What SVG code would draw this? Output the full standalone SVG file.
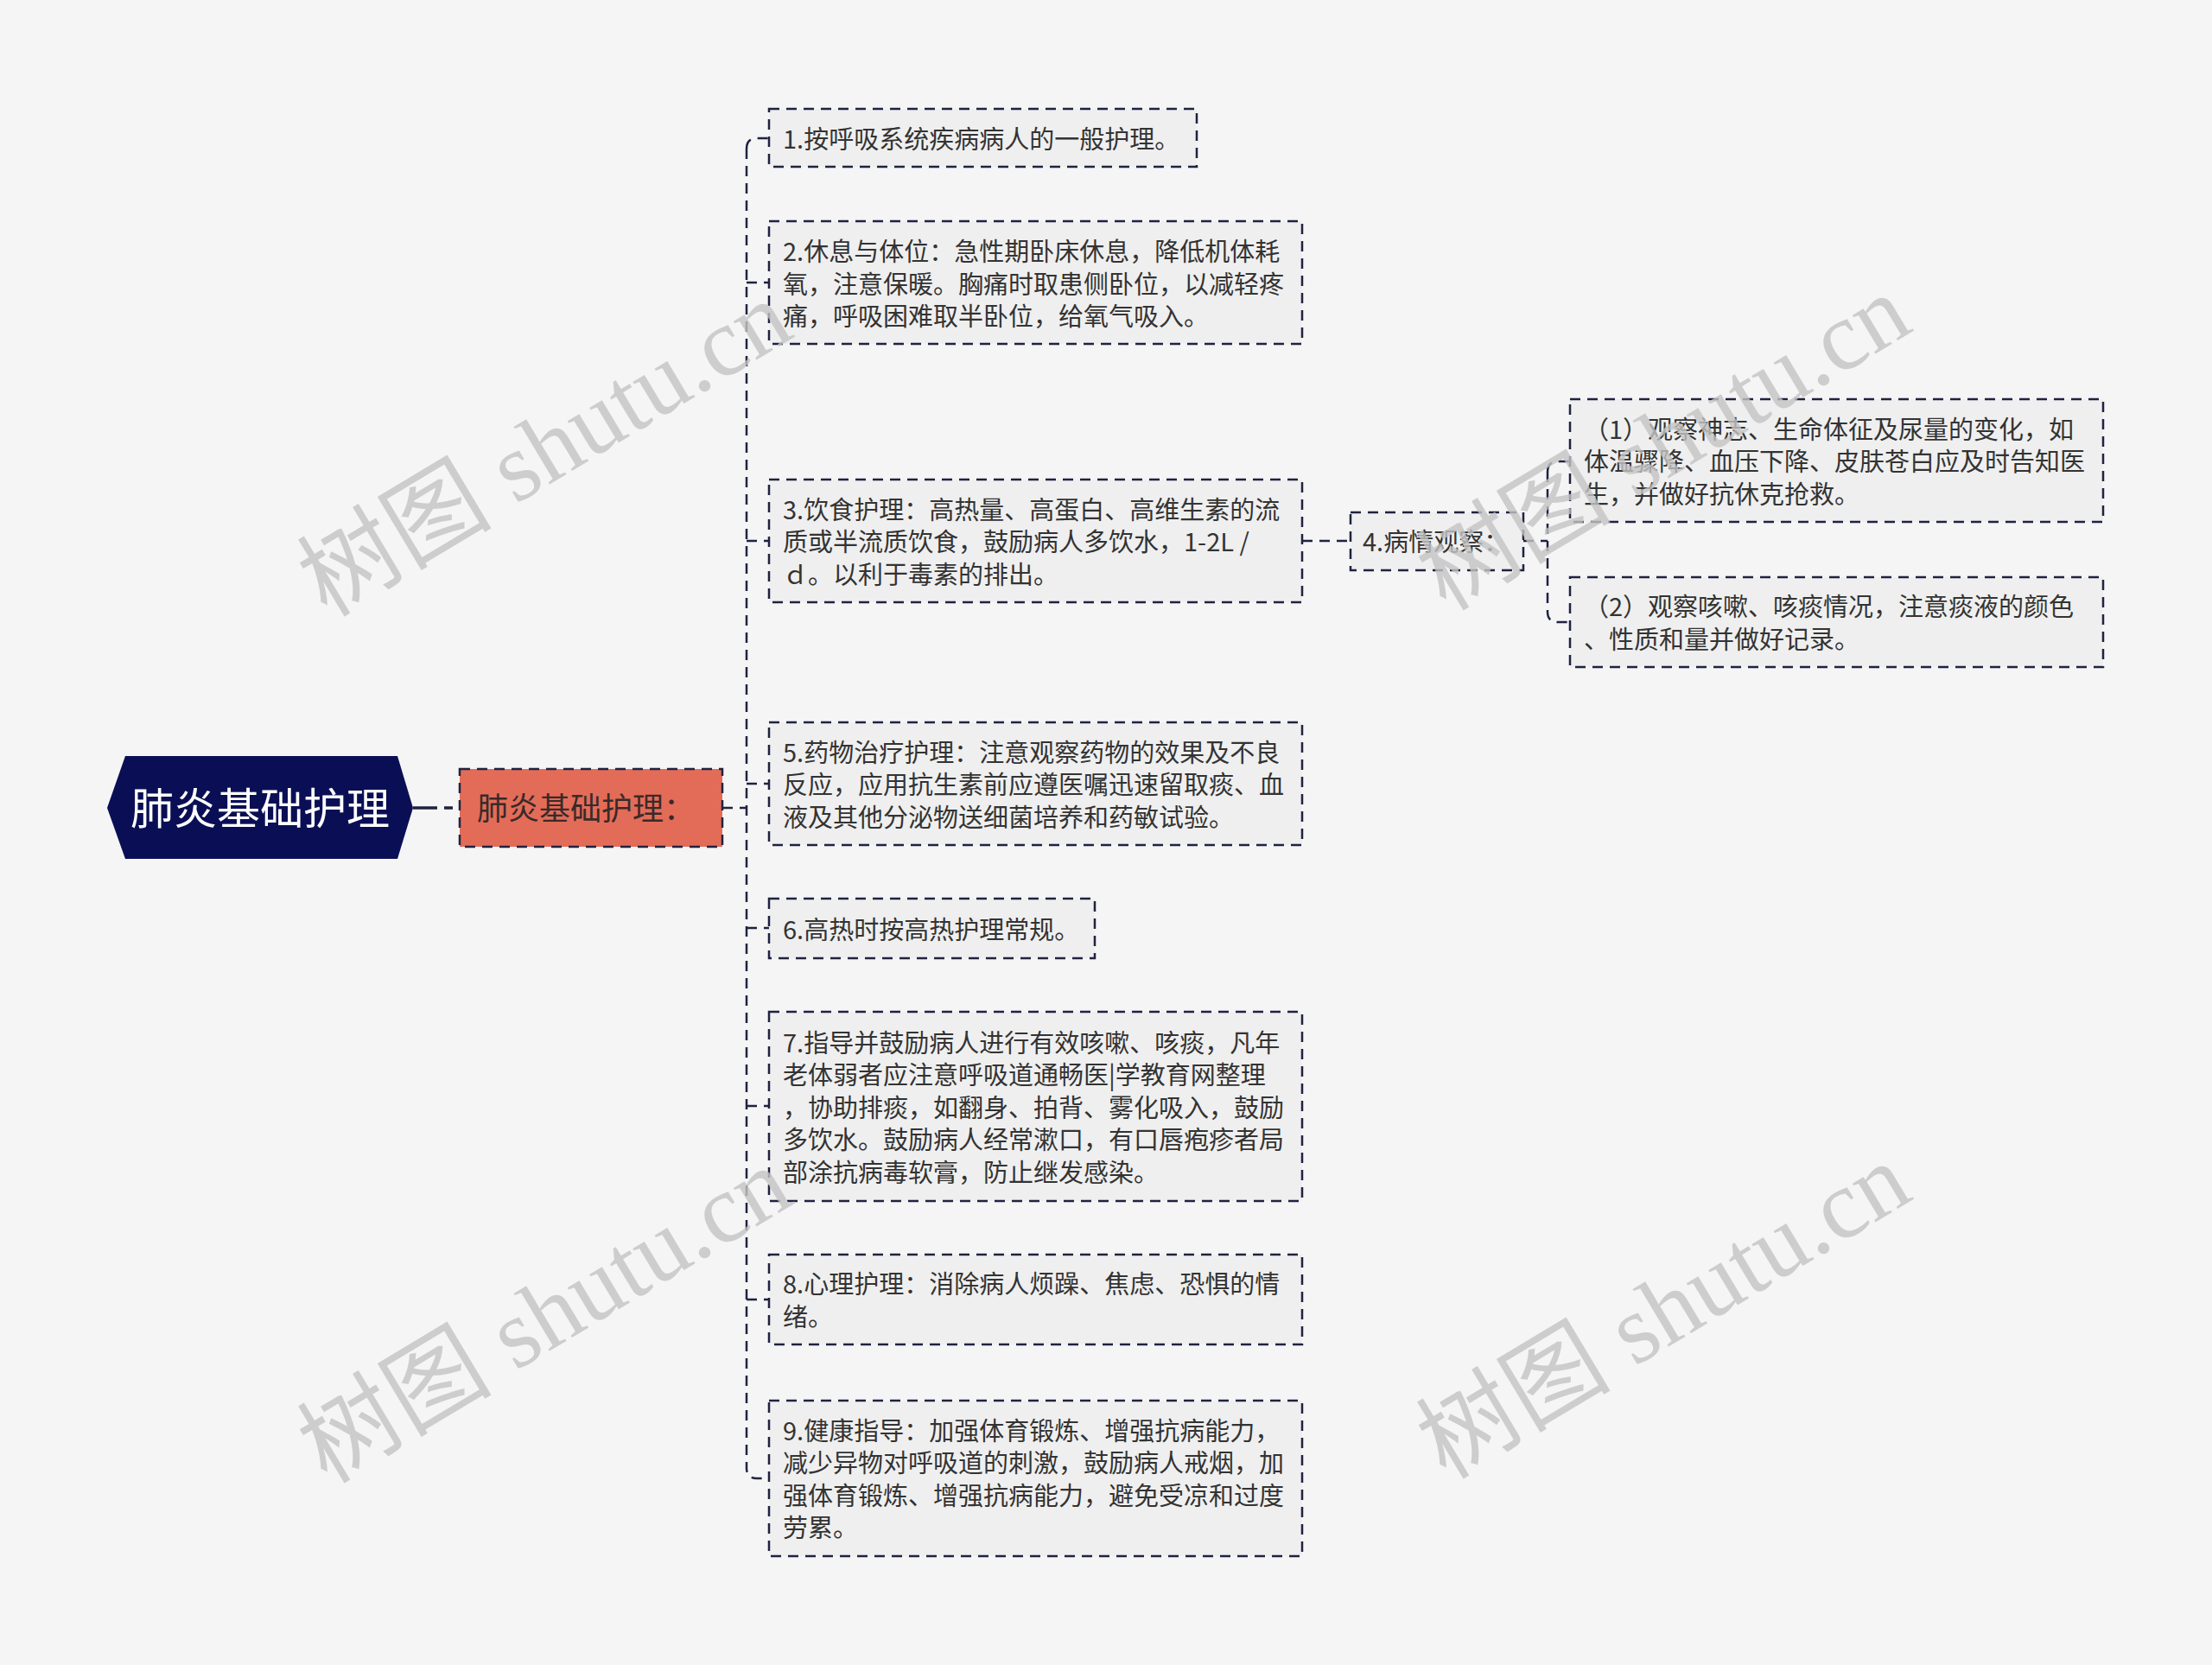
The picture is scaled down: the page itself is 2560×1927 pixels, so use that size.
<svg xmlns="http://www.w3.org/2000/svg" width="2560" height="1927" viewBox="0 0 2560 1927">
<style>
.bg{fill:#f5f5f5}
.leaf{fill:#efefef;stroke:#1f2340;stroke-width:2.5;stroke-dasharray:12 8}
.t{font-family:"Noto Sans CJK SC","Noto Sans",sans-serif;font-size:29px;fill:#333333}
.con{fill:none;stroke:#1f2340;stroke-width:2.5;stroke-dasharray:12 8}
.wm{font-family:"Liberation Serif","Noto Sans CJK SC",serif;font-size:113px;fill:#c4c4c4;opacity:0.8}
</style>
<rect class="bg" x="0" y="0" width="2560" height="1927"/>
<g id="connectors">
<path class="con" d="M478,935 H532" style="stroke-width:3.5;stroke-dasharray:28 8 10 8"/>
<path class="con" d="M836,935 H864"/>
<path class="con" d="M864,172 Q864,160 876,160 H890"/>
<path class="con" d="M864,172 V1699 Q864,1711 876,1711 H890"/>
<path class="con" d="M864,327 H890"/>
<path class="con" d="M864,626 H890"/>
<path class="con" d="M864,907 H890"/>
<path class="con" d="M864,1074 H890"/>
<path class="con" d="M864,1280 H890"/>
<path class="con" d="M864,1504 H890"/>
<path class="con" d="M1507,626 H1563"/>
<path class="con" d="M1763,626 H1791"/>
<path class="con" d="M1791,546 Q1791,534 1803,534 H1817"/>
<path class="con" d="M1791,546 V708 Q1791,720 1803,720 H1817"/>
</g>
<g id="root">
<polygon points="124,935 145,875 460,875 478,935 460,994 145,994" fill="#0a0f55"/>
<text x="301" y="954" text-anchor="middle" style="font-family:'Noto Sans CJK SC',sans-serif;font-size:50px;fill:#ffffff">肺炎基础护理</text>
</g>
<g id="main">
<rect x="532" y="890" width="304" height="90" fill="#e36c58" stroke="#1f2340" stroke-width="2.5" stroke-dasharray="12 8"/>
<text x="552" y="949" style="font-family:'Noto Sans CJK SC',sans-serif;font-size:36px;fill:#3a2a2a">肺炎基础护理：</text>
</g>
<g id="n1">
<rect class="leaf" x="890" y="126" width="495" height="67"/>
<text class="t" x="906" y="172">1.按呼吸系统疾病病人的一般护理。</text>
</g>
<g id="n2">
<rect class="leaf" x="890" y="256" width="617" height="142"/>
<text class="t" x="906" y="302">2.休息与体位：急性期卧床休息，降低机体耗</text>
<text class="t" x="906" y="340">氧，注意保暖。胸痛时取患侧卧位，以减轻疼</text>
<text class="t" x="906" y="377">痛，呼吸困难取半卧位，给氧气吸入。</text>
</g>
<g id="n3">
<rect class="leaf" x="890" y="555" width="617" height="142"/>
<text class="t" x="906" y="601">3.饮食护理：高热量、高蛋白、高维生素的流</text>
<text class="t" x="906" y="638">质或半流质饮食，鼓励病人多饮水，1-2L /</text>
<text class="t" x="906" y="676">ｄ。以利于毒素的排出。</text>
</g>
<g id="n4">
<rect class="leaf" x="1563" y="593" width="200" height="67"/>
<text class="t" x="1577" y="638">4.病情观察：</text>
</g>
<g id="n4a">
<rect class="leaf" x="1817" y="462" width="617" height="142"/>
<text class="t" x="1833" y="508">（1）观察神志、生命体征及尿量的变化，如</text>
<text class="t" x="1833" y="545">体温骤降、血压下降、皮肤苍白应及时告知医</text>
<text class="t" x="1833" y="583">生，并做好抗休克抢救。</text>
</g>
<g id="n4b">
<rect class="leaf" x="1817" y="668" width="617" height="104"/>
<text class="t" x="1833" y="713">（2）观察咳嗽、咳痰情况，注意痰液的颜色</text>
<text class="t" x="1833" y="751">、性质和量并做好记录。</text>
</g>
<g id="n5">
<rect class="leaf" x="890" y="836" width="617" height="142"/>
<text class="t" x="906" y="882">5.药物治疗护理：注意观察药物的效果及不良</text>
<text class="t" x="906" y="919">反应，应用抗生素前应遵医嘱迅速留取痰、血</text>
<text class="t" x="906" y="957">液及其他分泌物送细菌培养和药敏试验。</text>
</g>
<g id="n6">
<rect class="leaf" x="890" y="1040" width="377" height="69"/>
<text class="t" x="906" y="1087">6.高热时按高热护理常规。</text>
</g>
<g id="n7">
<rect class="leaf" x="890" y="1171" width="617" height="219"/>
<text class="t" x="906" y="1218">7.指导并鼓励病人进行有效咳嗽、咳痰，凡年</text>
<text class="t" x="906" y="1255">老体弱者应注意呼吸道通畅医|学教育网整理</text>
<text class="t" x="906" y="1293">，协助排痰，如翻身、拍背、雾化吸入，鼓励</text>
<text class="t" x="906" y="1330">多饮水。鼓励病人经常漱口，有口唇疱疹者局</text>
<text class="t" x="906" y="1368">部涂抗病毒软膏，防止继发感染。</text>
</g>
<g id="n8">
<rect class="leaf" x="890" y="1452" width="617" height="104"/>
<text class="t" x="906" y="1497">8.心理护理：消除病人烦躁、焦虑、恐惧的情</text>
<text class="t" x="906" y="1535">绪。</text>
</g>
<g id="n9">
<rect class="leaf" x="890" y="1621" width="617" height="180"/>
<text class="t" x="906" y="1667">9.健康指导：加强体育锻炼、增强抗病能力，</text>
<text class="t" x="906" y="1704">减少异物对呼吸道的刺激，鼓励病人戒烟，加</text>
<text class="t" x="906" y="1742">强体育锻炼、增强抗病能力，避免受凉和过度</text>
<text class="t" x="906" y="1779">劳累。</text>
</g>
<g id="watermarks">
<text class="wm" text-anchor="middle" transform="translate(650,552) rotate(-31)">树图 shutu.cn</text>
<text class="wm" text-anchor="middle" transform="translate(1945,545) rotate(-31)">树图 shutu.cn</text>
<text class="wm" text-anchor="middle" transform="translate(650,1555) rotate(-31)">树图 shutu.cn</text>
<text class="wm" text-anchor="middle" transform="translate(1945,1550) rotate(-31)">树图 shutu.cn</text>
</g>
</svg>
